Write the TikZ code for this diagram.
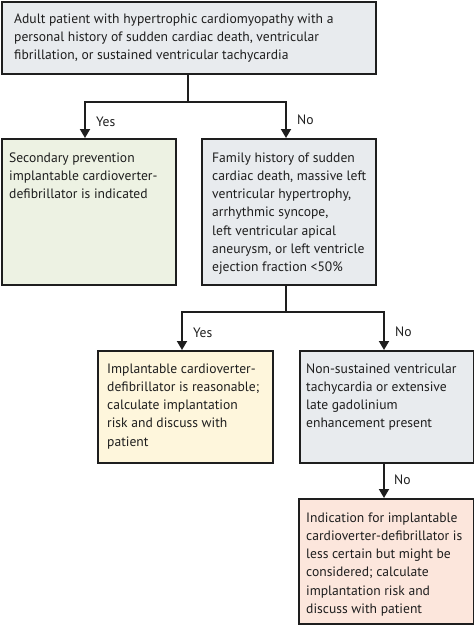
\documentclass[tikz,border=0pt]{standalone}
\usepackage{fontspec}
\setmainfont{PT Sans}
\usetikzlibrary{arrows.meta}
\definecolor{topgray}{HTML}{E8EBEE}
\definecolor{boxgreen}{HTML}{EDF2E3}
\definecolor{boxyellow}{HTML}{FEF6DC}
\definecolor{boxpeach}{HTML}{FCE6DC}
\definecolor{linecol}{HTML}{1E1E1E}
\begin{document}
\begin{tikzpicture}[x=1pt,y=-1pt,
  box/.style={draw=linecol, line width=1.8pt, rectangle, inner sep=0pt, anchor=north west},
  txt/.style={anchor=north west, align=left, inner sep=0pt, font=\fontsize{13.6}{18.2}\selectfont, text=linecol},
  lbl/.style={anchor=base west, inner sep=0pt, font=\fontsize{13.6}{18.2}\selectfont, text=linecol},
  conn/.style={draw=linecol, line width=1.8pt},
  arr/.style={conn, -{Triangle[length=9pt,width=10pt]}}]
\useasboundingbox (0,0) rectangle (474,625);
% boxes
\node[box, fill=topgray, minimum width=374pt, minimum height=72pt] (top) at (1,1) {};
\node[box, fill=boxgreen, minimum width=174pt, minimum height=146pt] (yes1) at (1,138) {};
\node[box, fill=topgray, minimum width=174pt, minimum height=146pt] (no1) at (201,138) {};
\node[box, fill=boxyellow, minimum width=175pt, minimum height=112pt] (yes2) at (97,350) {};
\node[box, fill=topgray, minimum width=174pt, minimum height=112pt] (no2) at (299,350) {};
\node[box, fill=boxpeach, minimum width=175pt, minimum height=125pt] (no3) at (298,498) {};
% texts
\node[txt] (ttop) at (14,13.5) {Adult patient with hypertrophic cardiomyopathy with a\\personal history of sudden cardiac death, ventricular\\fibrillation, or sustained ventricular tachycardia};
\node[txt] (tyes1) at (9,152.5) {Secondary prevention\\implantable cardioverter-\\defibrillator is indicated};
\node[txt] (tno1) at (212,152.5) {Family history of sudden\\cardiac death, massive left\\ventricular hypertrophy,\\arrhythmic syncope,\\left ventricular apical\\aneurysm, or left ventricle\\ejection fraction <50\%};
\node[txt] (tyes2) at (107,363.5) {Implantable cardioverter-\\defibrillator is reasonable;\\calculate implantation\\risk and discuss with\\patient};
\node[txt] (tno2) at (306,363.5) {Non-sustained ventricular\\tachycardia or extensive\\late gadolinium\\enhancement present};
\node[txt] (tno3) at (306,512.5) {Indication for implantable\\cardioverter-defibrillator is\\less certain but might be\\considered; calculate\\implantation risk and\\discuss with patient};
% junctions
\coordinate (j1) at (188,102);
\coordinate (j2) at (286,312);
\draw[conn] (top.south -| j1) -- (j1);
\draw[arr] (j1) -| (85,138) coordinate (a1);
\draw[arr] (j1) -| (286,138) coordinate (a2);
\draw[conn] (no1.south -| j2) -- (j2);
\draw[arr] (j2) -| (182,350) coordinate (a3);
\draw[arr] (j2) -| (384,350) coordinate (a4);
\draw[arr] (no2.south -| 384,0) -- (no3.north -| 384,0);
% labels
\node[lbl] (l1) at (96,126) {Yes};
\node[lbl] (l2) at (297,124) {No};
\node[lbl] (l3) at (193,337) {Yes};
\node[lbl] (l4) at (395,336) {No};
\node[lbl] (l5) at (394,484) {No};
\end{tikzpicture}
\end{document}
